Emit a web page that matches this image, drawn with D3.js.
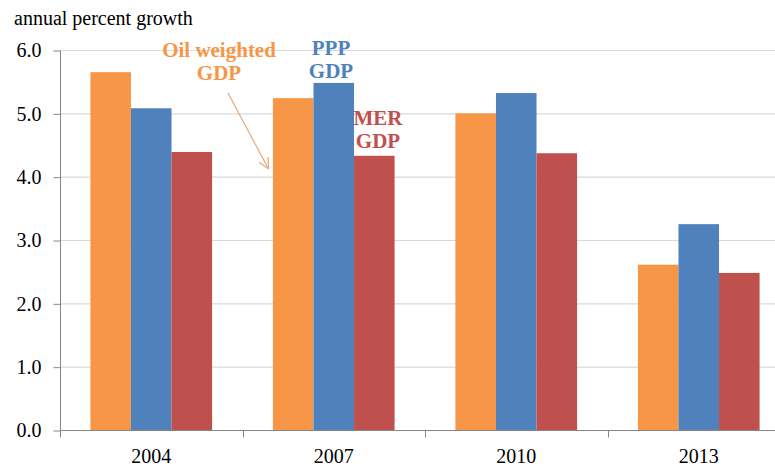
<!DOCTYPE html>
<html>
<head>
<meta charset="utf-8">
<script src="https://cdn.jsdelivr.net/npm/d3@7"></script>
<style>
  body { margin: 0; background: #fff; }
  svg { display: block; font-family: "Liberation Serif", "Times New Roman", serif; }
</style>
</head>
<body>
<svg></svg>
<script>
const width = 775;
const height = 466;

// data
const years = ["2004", "2007", "2010", "2013"];
const seriesNames = ["Oil weighted GDP", "PPP GDP", "MER GDP"];
const oilWeighted = [5.65, 5.24, 5.0, 2.61];
const pppGdp = [5.08, 5.48, 5.32, 3.25];
const merGdp = [4.39, 4.33, 4.37, 2.48];
const yTicks = [0, 1, 2, 3, 4, 5, 6];
const colors = ["#F79646", "#4F81BD", "#C0504D"];

const seriesValues = [oilWeighted, pppGdp, merGdp];
const rows = years.map((y, i) => ({year: y, values: seriesValues.map(s => s[i])}));

let marginLeft = 60;
let plotRight = 790;
let plotTop = 50;
let plotBottom = 430;

let svg = d3.select("svg")
    .attr("width", width)
    .attr("height", height);

let scaleX = d3.scaleBand()
    .domain(years)
    .range([marginLeft, plotRight])
    .padding(0);

let scaleSeries = d3.scaleBand()
    .domain(seriesNames)
    .range([0, scaleX.bandwidth()])
    .paddingInner(0)
    .paddingOuter(0.75);

let scaleY = d3.scaleLinear()
    .domain([0, 6])
    .range([plotBottom, plotTop]);

// gridlines
svg.append("g")
    .selectAll("line")
    .data(yTicks.filter(d => d > 0))
    .enter()
    .append("line")
    .attr("x1", marginLeft)
    .attr("x2", plotRight)
    .attr("y1", d => scaleY(d) + 0.5)
    .attr("y2", d => scaleY(d) + 0.5)
    .style("stroke", "#d9d9d9")
    .style("stroke-width", 1.2);

// bars
let groups = svg.append("g")
    .selectAll("g")
    .data(rows)
    .enter()
    .append("g")
    .attr("transform", d => `translate(${scaleX(d.year)},0)`);

groups.selectAll("rect")
    .data(d => d.values.map((v, i) => ({name: seriesNames[i], value: v, color: colors[i]})))
    .enter()
    .append("rect")
    .attr("x", d => scaleSeries(d.name))
    .attr("width", scaleSeries.bandwidth())
    .attr("y", d => scaleY(d.value))
    .attr("height", d => scaleY(0) - scaleY(d.value))
    .style("fill", d => d.color);

// y axis
let axisY = d3.axisLeft(scaleY)
    .tickValues(yTicks)
    .tickFormat(d3.format(".1f"))
    .tickSize(7)
    .tickPadding(12);

let gy = svg.append("g")
    .attr("transform", `translate(${marginLeft + 0.5},0.5)`)
    .call(axisY);
gy.select(".domain").attr("d", `M0,${plotTop}V${plotBottom}`).style("stroke", "#868686");
gy.selectAll(".tick line").style("stroke", "#868686");
gy.selectAll(".tick text")
    .style("font-size", "20px")
    .style("fill", "#000")
    .style("font-family", "Liberation Serif, serif");

// x axis with ticks between categories
let gx = svg.append("g")
    .attr("transform", `translate(0,${plotBottom + 0.5})`);
gx.append("line")
    .attr("x1", marginLeft)
    .attr("x2", plotRight)
    .style("stroke", "#868686");
let boundaries = years.map(y => scaleX(y)).concat([plotRight]);
gx.selectAll("line.tk")
    .data(boundaries)
    .enter()
    .append("line")
    .attr("class", "tk")
    .attr("x1", d => Math.round(d) + 0.5)
    .attr("x2", d => Math.round(d) + 0.5)
    .attr("y1", 0)
    .attr("y2", 7)
    .style("stroke", "#868686");
gx.selectAll("text")
    .data(years)
    .enter()
    .append("text")
    .attr("x", d => scaleX(d) + scaleX.bandwidth() / 2)
    .attr("y", 32)
    .attr("text-anchor", "middle")
    .style("font-size", "20px")
    .text(d => d);

// axis title
svg.append("text")
    .attr("x", 14)
    .attr("y", 25)
    .style("font-size", "20px")
    .text("annual percent growth");

// series annotations
const annotations = [
    {lines: ["Oil weighted", "GDP"], x: 219, y: 57, color: colors[0]},
    {lines: ["PPP", "GDP"], x: 331, y: 55, color: colors[1]},
    {lines: ["MER", "GDP"], x: 378, y: 125, color: colors[2]}
];

annotations.forEach(a => {
    let t = svg.append("text")
        .attr("text-anchor", "middle")
        .style("font-size", "21px")
        .style("font-weight", "bold")
        .style("fill", a.color);
    a.lines.forEach((l, i) => {
        t.append("tspan")
            .attr("x", a.x)
            .attr("y", a.y + i * 23)
            .text(l);
    });
});

// arrow for oil weighted label
svg.append("defs").append("marker")
    .attr("id", "arrow")
    .attr("viewBox", "0 0 10 10")
    .attr("refX", 9)
    .attr("refY", 5)
    .attr("markerWidth", 9)
    .attr("markerHeight", 9)
    .attr("orient", "auto")
    .append("path")
    .attr("d", "M0,0L10,5L0,10")
    .style("fill", "none")
    .style("stroke", "#E8A878")
    .style("stroke-width", 1.2);

svg.append("line")
    .attr("x1", 228)
    .attr("y1", 93)
    .attr("x2", 268)
    .attr("y2", 168)
    .style("stroke", "#E8A878")
    .style("stroke-width", 1.2)
    .attr("marker-end", "url(#arrow)");
</script>
</body>
</html>
